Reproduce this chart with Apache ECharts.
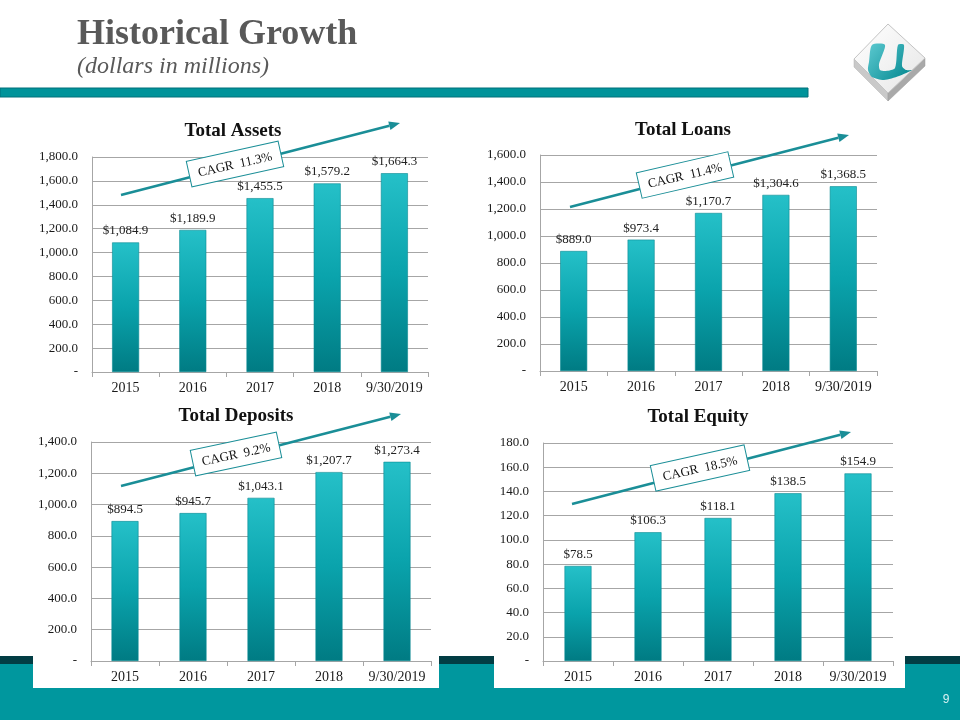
<!DOCTYPE html>
<html>
<head>
<meta charset="utf-8">
<script src="https://cdn.jsdelivr.net/npm/echarts@6/dist/echarts.min.js"></script>
<style>
html,body{margin:0;padding:0;background:#fff;}
#chart{width:960px;height:720px;}
</style>
</head>
<body>
<div id="chart"></div>
<script>
var categories = ['2015', '2016', '2017', '2018', '9/30/2019'];
var assets = [1084.9, 1189.9, 1455.5, 1579.2, 1664.3];
var loans = [889.0, 973.4, 1170.7, 1304.6, 1368.5];
var deposits = [894.5, 945.7, 1043.1, 1207.7, 1273.4];
var equity = [78.5, 106.3, 118.1, 138.5, 154.9];
var chartTitles = ['Total Assets', 'Total Loans', 'Total Deposits', 'Total Equity'];
var cagrLabels = ['CAGR  11.3%', 'CAGR  11.4%', 'CAGR  9.2%', 'CAGR  18.5%'];
var yMax = [1800, 1600, 1400, 180];
var yStep = [200, 200, 200, 20];

var SERIF = "'Liberation Serif', 'Times New Roman', serif";
var GRID = '#a6a6a6';
var TEAL_LINE = '#1a8e97';

var grids = [
  {left: 92, top: 157, width: 336, height: 215},
  {left: 540, top: 155, width: 337, height: 216},
  {left: 91, top: 442, width: 340, height: 219},
  {left: 543, top: 443, width: 350, height: 218}
];
var titlePos = [[233, 131], [683, 130], [236, 416], [698, 417]];
var arrows = [
  [[121, 195], [400, 123]],
  [[570, 207], [849, 135]],
  [[121, 486], [401, 414]],
  [[572, 504], [851, 432]]
];
var boxes = [
  {x: 235, y: 164, rot: 12.5, w: 94, h: 26},
  {x: 685, y: 175, rot: 13, w: 94, h: 26},
  {x: 236, y: 454, rot: 12, w: 88, h: 26},
  {x: 700, y: 468, rot: 12.5, w: 96, h: 26}
];
var dataSets = [assets, loans, deposits, equity];

function fmtNum(v) {
  var s = v.toFixed(1);
  var parts = s.split('.');
  parts[0] = parts[0].replace(/\B(?=(\d{3})+(?!\d))/g, ',');
  return parts.join('.');
}

var barColor = {
  type: 'linear', x: 0, y: 0, x2: 0, y2: 1,
  colorStops: [
    {offset: 0, color: '#25c0c8'},
    {offset: 0.5, color: '#0aa3ac'},
    {offset: 1, color: '#007b83'}
  ]
};

var xAxes = [], yAxes = [], series = [];
for (var i = 0; i < 4; i++) {
  xAxes.push({
    type: 'category', gridIndex: i, data: categories,
    axisLine: {lineStyle: {color: GRID}},
    axisTick: {show: true, length: 5, lineStyle: {color: GRID}},
    axisLabel: {fontFamily: SERIF, fontSize: 14, color: '#1a1a1a', margin: 9, interval: 0}
  });
  yAxes.push({
    type: 'value', gridIndex: i, min: 0, max: yMax[i], interval: yStep[i],
    axisLine: {show: true, lineStyle: {color: GRID}},
    axisTick: {show: false},
    splitLine: {lineStyle: {color: GRID}},
    axisLabel: {
      fontFamily: SERIF, fontSize: 13, color: '#1a1a1a', margin: 14,
      formatter: function (v) { return v === 0 ? '-' : fmtNum(v); }
    }
  });
  series.push({
    type: 'bar', xAxisIndex: i, yAxisIndex: i, data: dataSets[i],
    barWidth: 27,
    itemStyle: {color: barColor, borderColor: '#0a8a92', borderWidth: 0.6},
    label: {
      show: true, position: 'top', distance: 5,
      fontFamily: SERIF, fontSize: 13, color: '#222',
      formatter: function (p) { return '$' + fmtNum(p.value); }
    }
  });
}

var graphics = [
  // bottom bands
  {type: 'rect', z: -20, shape: {x: 0, y: 656, width: 960, height: 9}, style: {fill: '#023d44'}},
  {type: 'rect', z: -20, shape: {x: 0, y: 664, width: 960, height: 56}, style: {fill: '#00979e'}},
  {type: 'rect', z: -15, shape: {x: 33, y: 630, width: 406, height: 58}, style: {fill: '#ffffff'}},
  {type: 'rect', z: -15, shape: {x: 494, y: 630, width: 411, height: 58}, style: {fill: '#ffffff'}},
  {type: 'text', x: 946, y: 700, style: {text: '9', fill: '#d8f2f3', font: '12px Arial, sans-serif', align: 'center', verticalAlign: 'middle'}},
  // header
  {type: 'text', x: 77, y: 35, style: {text: 'Historical Growth', fill: '#595959', font: 'bold 36px ' + SERIF, verticalAlign: 'middle'}},
  {type: 'text', x: 77, y: 67, style: {text: '(dollars in millions)', fill: '#595959', font: 'italic 24px ' + SERIF, verticalAlign: 'middle'}},
  {type: 'rect', shape: {x: 0, y: 88, width: 808, height: 9}, style: {fill: '#00939a', stroke: '#00707a', lineWidth: 1}},
  // logo
  {type: 'polygon', shape: {points: [[854, 59], [888, 93], [888, 101], [854, 67]]}, style: {fill: '#c9c9c9', stroke: '#b0b0b0', lineWidth: 0.5}},
  {type: 'polygon', shape: {points: [[888, 93], [925, 58], [925, 66], [888, 101]]}, style: {fill: '#a9a9a9', stroke: '#999', lineWidth: 0.5}},
  {type: 'polygon', shape: {points: [[888, 24], [925, 58], [888, 93], [854, 59]]},
    style: {fill: {type: 'linear', x: 0, y: 0, x2: 1, y2: 1, colorStops: [{offset: 0, color: '#ffffff'}, {offset: 1, color: '#e6e6e6'}]}, stroke: '#c4c4c4', lineWidth: 1}},
  {type: 'polygon', shape: {smooth: 0.25, points: [[872, 45], [885, 45], [879, 64], [880, 70], [886, 71], [895, 68], [898, 45], [904, 45], [902, 66], [906, 70], [912, 70], [899, 76], [884, 80], [872, 77], [868, 70], [869, 62]]},
    style: {fill: {type: 'linear', x: 0, y: 0, x2: 1, y2: 1, colorStops: [{offset: 0, color: '#5cc9d0'}, {offset: 1, color: '#00858d'}]}}}
];

for (var k = 0; k < 4; k++) {
  graphics.push({type: 'text', x: titlePos[k][0], y: titlePos[k][1],
    style: {text: chartTitles[k], fill: '#111', font: 'bold 19px ' + SERIF, align: 'center', verticalAlign: 'middle'}});
  var a = arrows[k], p0 = a[0], p1 = a[1];
  var ang = Math.atan2(p1[1] - p0[1], p1[0] - p0[0]);
  var hl = 11, hw = 4.5;
  var bx = p1[0] - hl * Math.cos(ang), by = p1[1] - hl * Math.sin(ang);
  graphics.push({type: 'line', z: 5, shape: {x1: p0[0], y1: p0[1], x2: bx, y2: by}, style: {stroke: TEAL_LINE, lineWidth: 2.5}});
  graphics.push({type: 'polygon', z: 5, shape: {points: [
    [p1[0], p1[1]],
    [bx + hw * Math.sin(ang), by - hw * Math.cos(ang)],
    [bx - hw * Math.sin(ang), by + hw * Math.cos(ang)]
  ]}, style: {fill: TEAL_LINE}});
  var b = boxes[k];
  graphics.push({type: 'group', x: b.x, y: b.y, rotation: b.rot * Math.PI / 180, z: 10, children: [
    {type: 'rect', z: 10, shape: {x: -b.w / 2, y: -b.h / 2, width: b.w, height: b.h}, style: {fill: '#fff', stroke: TEAL_LINE, lineWidth: 1}},
    {type: 'text', z: 11, x: 0, y: 1, style: {text: cagrLabels[k], fill: '#111', font: '13px ' + SERIF, align: 'center', verticalAlign: 'middle'}}
  ]});
}

var chart = echarts.init(document.getElementById('chart'), null, {renderer: 'canvas'});
chart.setOption({
  backgroundColor: '#ffffff',
  animation: false,
  grid: grids,
  xAxis: xAxes,
  yAxis: yAxes,
  series: series,
  graphic: graphics
});
</script>
</body>
</html>
